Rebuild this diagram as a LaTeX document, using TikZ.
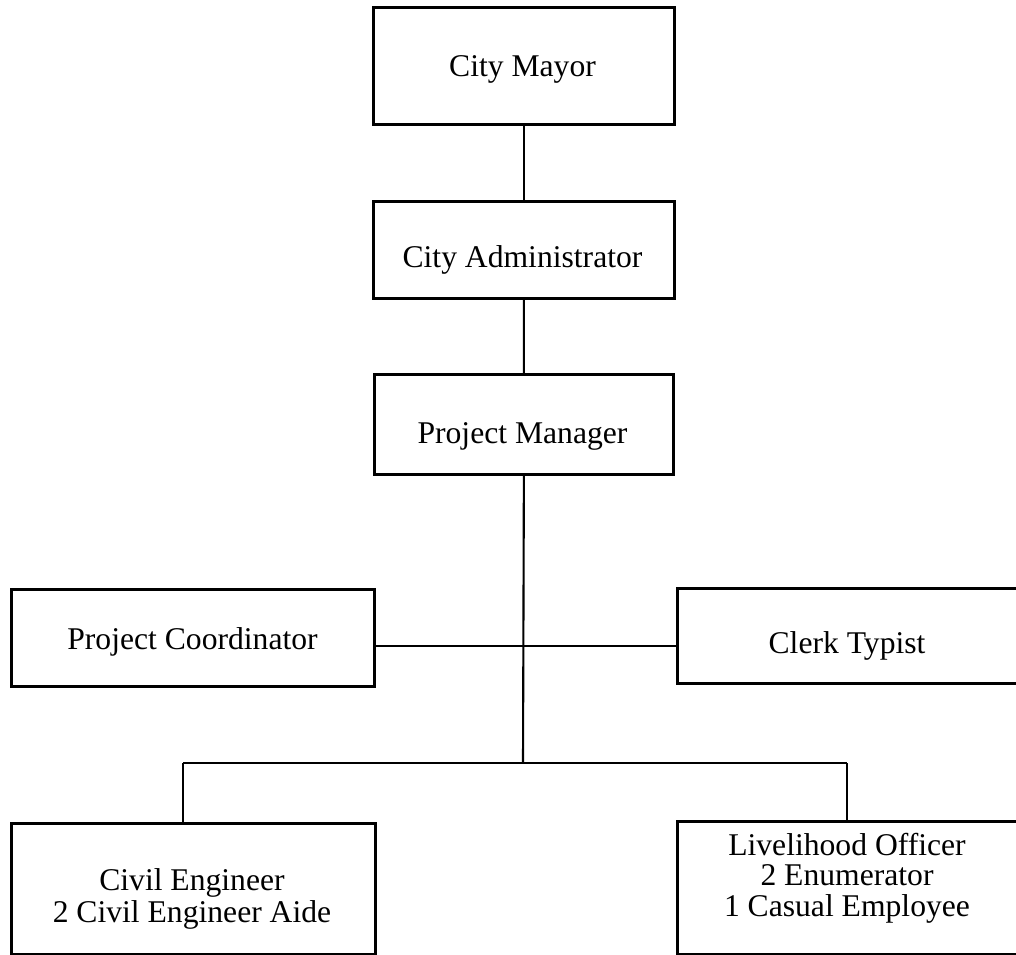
\documentclass[tikz,border=0pt]{standalone}
\usepackage{fontspec}
\setmainfont{Liberation Serif}
\usetikzlibrary{positioning}
\begin{document}
\begin{tikzpicture}[x=0.02cm,y=-0.02cm,
  orgbox/.style={draw=black, line width=1.6pt, fill=none, inner sep=0pt, anchor=north west, rectangle},
  lbl/.style={inner sep=0pt, font=\fontsize{18}{18}\selectfont, text=black},
  link/.style={draw=black, line width=1.2pt}]
\useasboundingbox (0,0) rectangle (1016,955);
\clip (0,0) rectangle (1016,955);
% boxes
\node[orgbox, minimum width=6.02cm, minimum height=2.34cm] (mayor) at (372,6) {};
\node[orgbox, minimum width=6.02cm, minimum height=1.94cm] (admin) at (372,200) {};
\node[orgbox, minimum width=5.98cm, minimum height=2.00cm] (pm) at (373,373) {};
\node[orgbox, minimum width=7.26cm, minimum height=1.94cm] (coord) at (10,588) {};
\node[orgbox, minimum width=6.84cm, minimum height=1.90cm] (clerk) at (676,587) {};
\node[orgbox, minimum width=7.28cm, minimum height=2.62cm] (civil) at (10,822) {};
\node[orgbox, minimum width=6.84cm, minimum height=2.66cm] (live) at (676,820) {};
% texts
\node[lbl, anchor=base] (mayorT) at (522.5,77) {City Mayor};
\node[lbl, anchor=base] (adminT) at (522.5,268) {City Administrator};
\node[lbl, anchor=base] (pmT) at (522.5,443) {Project Manager};
\node[lbl, anchor=base] (coordT) at (192.5,649) {Project Coordinator};
\node[lbl, anchor=base] (clerkT) at (847,653) {Clerk Typist};
\node[lbl, anchor=north, align=center, font=\fontsize{18}{18.2}\selectfont] (civilT) at (192,868) {Civil Engineer\\2 Civil Engineer Aide};
\node[lbl, anchor=north, align=center, font=\fontsize{18}{17.2}\selectfont] (liveT) at (847,833) {Livelihood Officer\\2 Enumerator\\1 Casual Employee};
% connector points
\coordinate (cross) at (523,646);
\coordinate (hub) at (523,763);
\coordinate (jl) at (183,763);
\coordinate (jr) at (847,763);
% connectors
\draw[link] (mayor.south) -- (admin.north);
\draw[link] (admin.south) -- (pm.north);
\draw[link] (pm.south) -- (hub);
\draw[link] (coord.east |- cross) -- (clerk.west |- cross);
\draw[link] (jl) -- (jr);
\draw[link] (jl) -- (jl |- civil.north);
\draw[link] (jr) -- (jr |- live.north);
\end{tikzpicture}
\end{document}
